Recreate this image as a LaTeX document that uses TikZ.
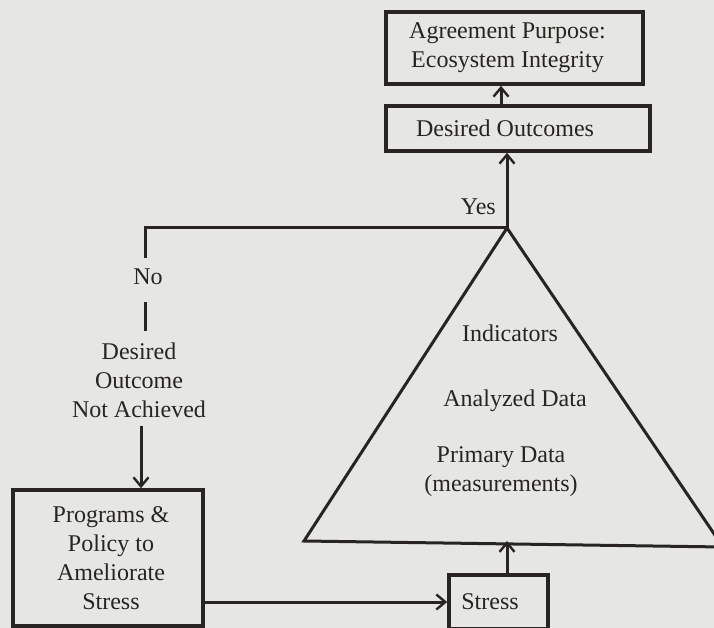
\documentclass[tikz,border=0pt]{standalone}
\usepackage{fontspec}
\setmainfont{Liberation Serif}
\usetikzlibrary{arrows.meta}
\definecolor{paper}{RGB}{230,231,226}
\definecolor{ink}{RGB}{40,36,34}
\begin{document}
\begin{tikzpicture}[x=1pt,y=-1pt,
  every node/.style={font=\fontsize{24}{29}\selectfont, text=ink, inner sep=0pt},
  box/.style={draw=ink, line width=3.6pt, align=center},
  conn/.style={draw=ink, line width=3pt},
  arr/.style={conn, -{Straight Barb[length=9pt,width=15pt,line width=2.4pt]}},
  lbl/.style={align=center}]
\fill[paper] (0,0) rectangle (714,628);
\useasboundingbox (0,0) rectangle (714,628);
% boxes
\node[box, minimum width=257pt, minimum height=72pt] (agree) at (514.5,48) {\hspace*{-14pt}Agreement Purpose:\\\hspace*{-14pt}Ecosystem Integrity};
\node[box, minimum width=264pt, minimum height=45pt] (dout) at (518,128.5) {\hspace*{-26pt}Desired Outcomes};
\node[box, minimum width=190pt, minimum height=136pt] (prog) at (108,558) {\hspace*{6pt}Programs \&\\\hspace*{6pt}Policy to\\\hspace*{6pt}Ameliorate\\\hspace*{6pt}Stress};
\node[box, minimum width=99pt, minimum height=54pt] (stress) at (498.5,602) {\hspace*{-17pt}Stress};
% coordinates
\coordinate (J) at (507,228);
\coordinate (TL) at (304,541);
\coordinate (TR) at (723,547);
\coordinate (Lc) at (145,228);
\coordinate (A1) at (501,106);
\coordinate (N1) at (145,258);
\coordinate (N2) at (145,302);
\coordinate (N3) at (145,331);
% labels
\node[lbl, anchor=east] (yes) at (496,207) {Yes};
\node[lbl] (no) at (148,277) {No};
\node[lbl] (dna) at (139,380) {Desired\\Outcome\\Not Achieved};
\node[lbl] (ind) at (510,333) {Indicators};
\node[lbl] (ana) at (515,401) {Analyzed Data};
\node[lbl] (pri) at (501,472) {Primary Data\\(measurements)};
% connectors
\draw[arr] (A1) -- (A1 |- agree.south);
\draw[arr] (J) -- (J |- dout.south);
\draw[conn] (J) -- (Lc) -- (N1);
\draw[conn] (N2) -- (N3);
\draw[arr] ([xshift=-4pt,yshift=-8pt]Lc |- dna.south) -- ([xshift=-4pt]Lc |- prog.north);
\draw[conn, line join=miter] (J) -- (TL) -- (TR) -- cycle;
\draw[arr] (stress.north -| J) -- (J |- TL);
\draw[arr] (prog.east |- stress.west) -- (stress.west);
\end{tikzpicture}
\end{document}
